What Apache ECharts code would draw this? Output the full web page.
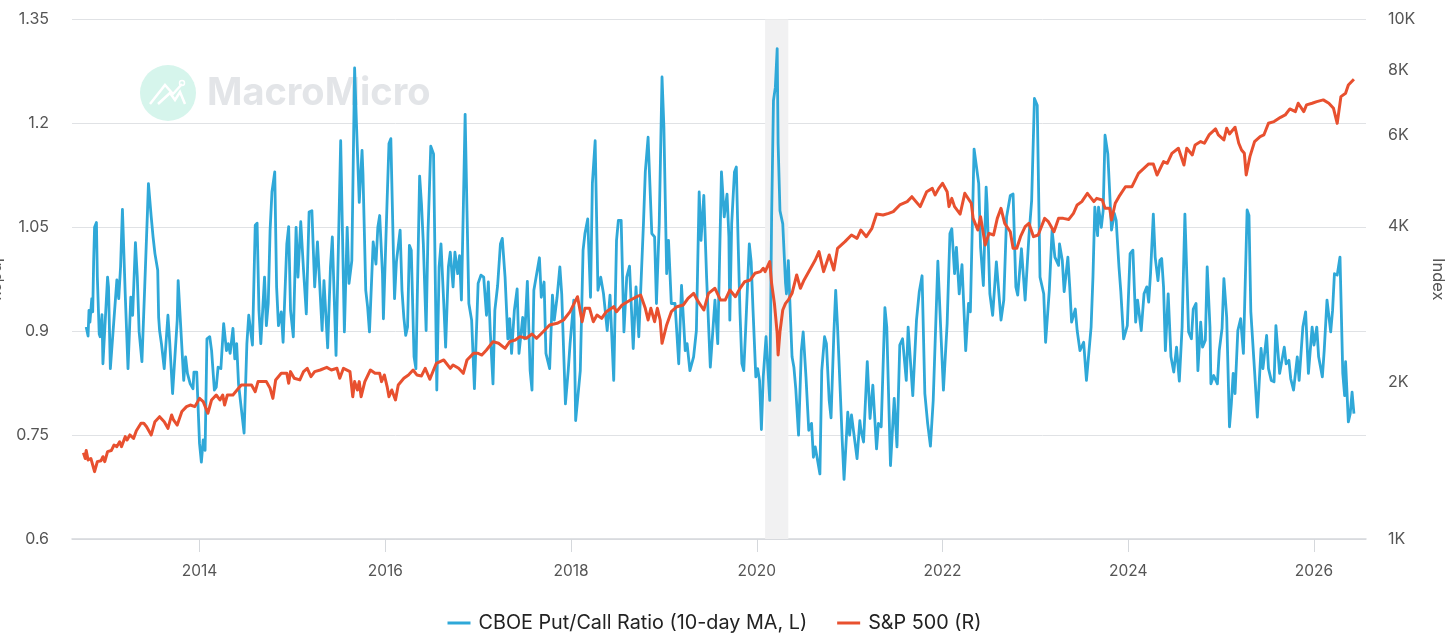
<!DOCTYPE html>
<html><head><meta charset="utf-8">
<style>html,body{margin:0;padding:0;background:#fff}#c{width:1456px;height:641px}</style>
<script src="https://cdn.jsdelivr.net/npm/echarts@6/dist/echarts.min.js"></script>
</head><body><div id="c"></div>
<script>
const yearTicks=[2014,2016,2018,2020,2022,2024,2026];
const leftTicksStep=0.15;
const rightTicks=[1000,2000,4000,6000,8000,10000];
const recession=[2020.09,2020.34];
const putCallName='CBOE Put/Call Ratio (10-day MA, L)';
const sp500Name='S&P 500 (R)';
const putCall=[[2012.78,.906],[2012.80,.893],[2012.81,.930],[2012.82,.913],[2012.84,.947],[2012.85,.928],[2012.86,1.000],[2012.87,1.050],[2012.89,1.057],[2012.90,.978],[2012.92,.896],[2012.93,.892],[2012.95,.924],[2012.96,.853],[2012.97,.853],[2013.01,.978],[2013.02,.964],[2013.04,.846],[2013.06,.846],[2013.11,.974],[2013.13,.947],[2013.15,.993],[2013.17,1.076],[2013.20,.954],[2013.23,.846],[2013.26,.949],[2013.28,.923],[2013.31,1.028],[2013.33,.978],[2013.35,.899],[2013.38,.856],[2013.41,.964],[2013.44,1.074],[2013.45,1.113],[2013.47,1.113],[2013.48,1.065],[2013.50,1.036],[2013.52,1.012],[2013.55,.988],[2013.56,.920],[2013.57,.901],[2013.59,.882],[2013.62,.846],[2013.66,.923],[2013.68,.882],[2013.71,.810],[2013.76,.916],[2013.77,.973],[2013.79,.974],[2013.83,.829],[2013.85,.863],[2013.87,.839],[2013.90,.824],[2013.93,.817],[2013.94,.841],[2013.97,.841],[2014.00,.738],[2014.02,.711],[2014.04,.743],[2014.06,.728],[2014.08,.889],[2014.11,.892],[2014.13,.872],[2014.16,.815],[2014.18,.819],[2014.20,.848],[2014.23,.846],[2014.26,.911],[2014.29,.872],[2014.31,.882],[2014.33,.868],[2014.36,.904],[2014.38,.860],[2014.40,.882],[2014.42,.824],[2014.44,.800],[2014.48,.753],[2014.51,.882],[2014.53,.923],[2014.54,.923],[2014.57,.880],[2014.60,1.053],[2014.62,1.056],[2014.64,.930],[2014.66,.882],[2014.70,.978],[2014.72,.908],[2014.74,.940],[2014.76,1.046],[2014.78,1.101],[2014.81,1.130],[2014.83,.964],[2014.85,.908],[2014.88,.928],[2014.90,.884],[2014.94,1.026],[2014.96,1.051],[2014.98,.930],[2015.01,.892],[2015.04,1.050],[2015.06,.978],[2015.09,1.058],[2015.12,.988],[2015.15,.925],[2015.18,1.072],[2015.21,1.074],[2015.24,.964],[2015.27,1.029],[2015.29,.978],[2015.32,.901],[2015.34,.973],[2015.38,.876],[2015.41,.993],[2015.43,1.036],[2015.47,.865],[2015.50,1.050],[2015.52,1.175],[2015.56,.899],[2015.59,1.050],[2015.61,.969],[2015.64,1.002],[2015.67,1.280],[2015.69,1.199],[2015.72,1.086],[2015.75,1.161],[2015.76,1.127],[2015.79,.959],[2015.81,.935],[2015.83,.899],[2015.87,1.029],[2015.90,.997],[2015.92,1.050],[2015.94,1.067],[2015.97,.983],[2015.98,.918],[2016.02,1.089],[2016.04,1.171],[2016.06,1.178],[2016.09,1.000],[2016.10,.947],[2016.12,1.000],[2016.16,1.046],[2016.18,.959],[2016.20,.920],[2016.22,.894],[2016.24,.906],[2016.26,1.024],[2016.28,1.017],[2016.31,.863],[2016.33,.846],[2016.37,1.124],[2016.39,1.084],[2016.41,1.026],[2016.44,.901],[2016.46,1.041],[2016.49,1.167],[2016.52,1.156],[2016.55,.865],[2016.555,.815],[2016.58,.993],[2016.60,1.026],[2016.63,.940],[2016.65,.877],[2016.68,.993],[2016.70,1.014],[2016.73,.964],[2016.75,1.014],[2016.78,.983],[2016.80,1.009],[2016.82,.945],[2016.84,1.074],[2016.86,1.213],[2016.88,1.074],[2016.90,.940],[2016.93,.916],[2016.96,.817],[2017.00,.969],[2017.03,.981],[2017.06,.978],[2017.09,.923],[2017.11,.971],[2017.13,.901],[2017.16,.824],[2017.18,.930],[2017.21,.966],[2017.24,1.026],[2017.26,1.034],[2017.29,.978],[2017.32,.889],[2017.34,.918],[2017.36,.868],[2017.39,.930],[2017.42,.961],[2017.44,.868],[2017.48,.920],[2017.50,.889],[2017.53,.972],[2017.56,.843],[2017.58,.815],[2017.60,.959],[2017.66,1.006],[2017.68,.949],[2017.71,.971],[2017.73,.868],[2017.77,.846],[2017.80,.952],[2017.82,.916],[2017.85,.949],[2017.88,.993],[2017.90,.954],[2017.94,.795],[2017.97,.843],[2017.99,.882],[2018.03,.945],[2018.05,.771],[2018.07,.771],[2018.10,.843],[2018.13,1.017],[2018.15,1.041],[2018.18,1.062],[2018.21,.949],[2018.23,1.113],[2018.26,1.175],[2018.29,.959],[2018.32,.978],[2018.35,.954],[2018.39,.901],[2018.42,.952],[2018.46,.829],[2018.49,1.031],[2018.51,1.060],[2018.54,1.060],[2018.57,.899],[2018.60,.978],[2018.63,.994],[2018.67,.875],[2018.70,.964],[2018.73,.892],[2018.78,1.055],[2018.80,1.130],[2018.83,1.180],[2018.87,1.041],[2018.90,1.036],[2018.92,.940],[2018.95,1.055],[2018.98,1.267],[2019.00,1.195],[2019.03,.983],[2019.05,1.031],[2019.08,.940],[2019.12,.940],[2019.16,.853],[2019.19,.966],[2019.23,.872],[2019.25,.882],[2019.28,.843],[2019.32,.863],[2019.35,.901],[2019.38,1.101],[2019.40,1.031],[2019.43,1.096],[2019.46,.978],[2019.50,.848],[2019.55,.945],[2019.58,.882],[2019.62,1.130],[2019.65,1.065],[2019.68,1.098],[2019.70,1.036],[2019.71,.916],[2019.73,1.055],[2019.76,1.130],[2019.78,1.137],[2019.80,1.026],[2019.82,.925],[2019.84,.853],[2019.86,.843],[2019.88,.901],[2019.92,1.026],[2019.94,1.000],[2019.96,.930],[2019.99,.834],[2020.01,.846],[2020.03,.829],[2020.05,.758],[2020.07,.834],[2020.10,.892],[2020.14,.800],[2020.16,1.065],[2020.18,1.233],[2020.20,1.252],[2020.22,1.308],[2020.23,1.171],[2020.25,1.074],[2020.28,1.055],[2020.31,.969],[2020.32,.954],[2020.34,1.002],[2020.36,.930],[2020.38,.863],[2020.40,.848],[2020.42,.817],[2020.45,.750],[2020.48,.872],[2020.50,.899],[2020.53,.834],[2020.56,.757],[2020.59,.767],[2020.61,.718],[2020.63,.733],[2020.65,.735],[2020.68,.694],[2020.70,.843],[2020.73,.892],[2020.75,.882],[2020.78,.800],[2020.80,.775],[2020.83,.896],[2020.85,.959],[2020.87,.906],[2020.90,.810],[2020.92,.743],[2020.94,.686],[2020.98,.783],[2021.00,.750],[2021.02,.779],[2021.04,.779],[2021.08,.716],[2021.11,.771],[2021.12,.759],[2021.15,.740],[2021.19,.856],[2021.22,.774],[2021.25,.822],[2021.29,.730],[2021.31,.767],[2021.34,.762],[2021.38,.934],[2021.40,.906],[2021.44,.706],[2021.48,.803],[2021.51,.733],[2021.54,.880],[2021.57,.889],[2021.61,.829],[2021.63,.906],[2021.68,.807],[2021.72,.916],[2021.75,.957],[2021.78,.980],[2021.81,.810],[2021.84,.767],[2021.87,.734],[2021.90,.800],[2021.95,1.001],[2021.98,.906],[2022.01,.815],[2022.05,.911],[2022.08,1.041],[2022.10,1.048],[2022.13,.983],[2022.15,1.021],[2022.18,.954],[2022.21,.996],[2022.25,.872],[2022.28,.940],[2022.30,.928],[2022.34,1.163],[2022.36,1.161],[2022.39,1.113],[2022.41,1.021],[2022.44,.966],[2022.47,1.108],[2022.48,1.084],[2022.51,.954],[2022.54,.923],[2022.58,1.000],[2022.60,1.000],[2022.63,.916],[2022.66,.945],[2022.69,1.065],[2022.73,1.096],[2022.76,1.098],[2022.79,.964],[2022.81,.952],[2022.85,1.019],[2022.89,.945],[2022.93,1.036],[2022.96,1.089],[2022.99,1.236],[2023.02,1.226],[2023.05,.978],[2023.09,.954],[2023.11,.884],[2023.15,.959],[2023.18,1.046],[2023.21,1.007],[2023.25,.995],[2023.26,1.026],[2023.29,1.002],[2023.31,.957],[2023.35,1.007],[2023.37,.964],[2023.39,.913],[2023.43,.932],[2023.45,.901],[2023.48,.872],[2023.52,.884],[2023.55,.829],[2023.57,.828],[2023.60,.906],[2023.62,.978],[2023.64,1.079],[2023.67,1.038],[2023.68,1.079],[2023.71,1.050],[2023.73,1.074],[2023.75,1.183],[2023.78,1.156],[2023.80,1.156],[2023.82,1.046],[2023.85,1.070],[2023.87,1.060],[2023.90,.993],[2023.92,.957],[2023.95,.889],[2023.99,.908],[2024.02,1.012],[2024.05,1.017],[2024.08,.913],[2024.10,.945],[2024.14,.901],[2024.17,.954],[2024.20,.964],[2024.22,.942],[2024.24,.983],[2024.27,1.069],[2024.29,1.007],[2024.32,.973],[2024.34,1.002],[2024.36,1.005],[2024.38,.964],[2024.40,.872],[2024.43,.954],[2024.46,.863],[2024.49,.841],[2024.52,.877],[2024.55,.828],[2024.58,.906],[2024.61,1.069],[2024.62,1.067],[2024.65,.899],[2024.68,.889],[2024.70,.932],[2024.73,.940],[2024.75,.843],[2024.78,.913],[2024.80,.877],[2024.83,.887],[2024.85,.993],[2024.88,.906],[2024.89,.824],[2024.92,.836],[2024.96,.824],[2024.98,.872],[2025.01,.904],[2025.03,.976],[2025.06,.920],[2025.09,.762],[2025.11,.795],[2025.13,.839],[2025.15,.810],[2025.18,.901],[2025.21,.918],[2025.24,.868],[2025.28,1.075],[2025.30,1.067],[2025.32,.928],[2025.36,.843],[2025.39,.776],[2025.43,.875],[2025.45,.846],[2025.49,.894],[2025.51,.846],[2025.54,.829],[2025.57,.827],[2025.59,.908],[2025.63,.839],[2025.68,.877],[2025.70,.853],[2025.73,.858],[2025.75,.831],[2025.78,.815],[2025.82,.863],[2025.84,.829],[2025.88,.906],[2025.91,.928],[2025.94,.839],[2025.98,.906],[2026.00,.880],[2026.03,.906],[2026.05,.863],[2026.09,.834],[2026.11,.872],[2026.14,.945],[2026.18,.899],[2026.20,.930],[2026.22,.983],[2026.25,.981],[2026.28,1.007],[2026.31,.839],[2026.33,.807],[2026.34,.856],[2026.37,.769],[2026.39,.781],[2026.41,.812],[2026.43,.781]];
const sp500=[[2012.75,1466],[2012.77,1429],[2012.78,1480],[2012.80,1419],[2012.83,1429],[2012.87,1348],[2012.90,1409],[2012.94,1415],[2012.96,1440],[2012.98,1409],[2013.01,1473],[2013.05,1480],[2013.08,1517],[2013.11,1506],[2013.14,1539],[2013.16,1506],[2013.20,1574],[2013.22,1551],[2013.25,1586],[2013.29,1562],[2013.32,1616],[2013.37,1670],[2013.40,1670],[2013.43,1645],[2013.48,1586],[2013.52,1682],[2013.57,1720],[2013.62,1682],[2013.66,1633],[2013.70,1733],[2013.72,1695],[2013.76,1657],[2013.81,1759],[2013.86,1798],[2013.90,1811],[2013.95,1798],[2014.00,1865],[2014.04,1838],[2014.06,1852],[2014.09,1746],[2014.13,1852],[2014.18,1893],[2014.22,1852],[2014.25,1893],[2014.27,1811],[2014.30,1893],[2014.36,1893],[2014.42,1950],[2014.45,1979],[2014.51,1979],[2014.56,1979],[2014.60,1921],[2014.63,2009],[2014.68,2009],[2014.72,2009],[2014.76,1950],[2014.79,1865],[2014.82,2024],[2014.88,2084],[2014.94,2084],[2014.96,1994],[2014.98,2100],[2015.02,2039],[2015.08,2024],[2015.12,2100],[2015.16,2131],[2015.20,2054],[2015.24,2100],[2015.30,2115],[2015.37,2140],[2015.42,2115],[2015.48,2131],[2015.51,2039],[2015.55,2131],[2015.62,2100],[2015.65,1879],[2015.67,2009],[2015.70,1936],[2015.72,2009],[2015.74,1879],[2015.78,2009],[2015.84,2115],[2015.89,2084],[2015.94,2084],[2015.96,2009],[2015.99,2069],[2016.02,1965],[2016.04,1879],[2016.07,1936],[2016.11,1852],[2016.14,1979],[2016.16,1965],[2016.20,2039],[2016.25,2069],[2016.30,2115],[2016.34,2069],[2016.39,2060],[2016.43,2131],[2016.48,2030],[2016.52,2115],[2016.55,2179],[2016.63,2211],[2016.70,2131],[2016.73,2163],[2016.79,2131],[2016.84,2084],[2016.88,2211],[2016.95,2277],[2017.00,2277],[2017.04,2260],[2017.09,2311],[2017.16,2398],[2017.22,2381],[2017.29,2328],[2017.34,2398],[2017.40,2416],[2017.45,2452],[2017.52,2434],[2017.58,2481],[2017.63,2434],[2017.70,2506],[2017.77,2582],[2017.85,2601],[2017.92,2640],[2017.99,2739],[2018.07,2927],[2018.12,2620],[2018.15,2780],[2018.20,2780],[2018.24,2620],[2018.28,2699],[2018.33,2659],[2018.38,2739],[2018.46,2800],[2018.49,2739],[2018.55,2822],[2018.64,2884],[2018.71,2927],[2018.75,2949],[2018.80,2780],[2018.83,2640],[2018.86,2780],[2018.90,2620],[2018.93,2780],[2018.96,2640],[2018.98,2381],[2019.03,2582],[2019.08,2739],[2019.14,2800],[2019.21,2822],[2019.26,2905],[2019.32,2971],[2019.37,2863],[2019.43,2759],[2019.48,2971],[2019.55,3038],[2019.61,2884],[2019.66,2884],[2019.71,3015],[2019.77,2927],[2019.82,3038],[2019.87,3128],[2019.93,3152],[2019.98,3247],[2020.04,3271],[2020.07,3320],[2020.09,3271],[2020.14,3419],[2020.16,3105],[2020.19,2842],[2020.22,2488],[2020.23,2261],[2020.25,2506],[2020.28,2759],[2020.31,2842],[2020.34,2884],[2020.38,2971],[2020.43,3223],[2020.47,3038],[2020.51,3152],[2020.57,3295],[2020.63,3444],[2020.67,3574],[2020.72,3271],[2020.78,3522],[2020.83,3295],[2020.87,3627],[2020.95,3736],[2021.02,3847],[2021.08,3791],[2021.12,3933],[2021.18,3819],[2021.24,3963],[2021.29,4222],[2021.36,4204],[2021.42,4235],[2021.47,4267],[2021.54,4395],[2021.62,4461],[2021.67,4560],[2021.76,4363],[2021.83,4662],[2021.89,4731],[2021.92,4594],[2021.96,4731],[2022.00,4839],[2022.05,4662],[2022.07,4363],[2022.10,4526],[2022.13,4363],[2022.15,4363],[2022.19,4222],[2022.21,4235],[2022.24,4628],[2022.31,4428],[2022.33,4142],[2022.38,3933],[2022.41,4173],[2022.46,3680],[2022.50,3875],[2022.55,3847],[2022.59,4142],[2022.63,4330],[2022.67,4052],[2022.73,3904],[2022.76,3627],[2022.80,3627],[2022.84,3819],[2022.89,3992],[2022.93,4052],[2022.98,3819],[2023.03,3847],[2023.10,4142],[2023.14,4082],[2023.16,4022],[2023.20,3904],[2023.25,4142],[2023.30,4142],[2023.36,4122],[2023.41,4235],[2023.45,4395],[2023.50,4461],[2023.56,4628],[2023.63,4461],[2023.66,4526],[2023.72,4494],[2023.75,4330],[2023.80,4330],[2023.82,4112],[2023.86,4428],[2023.90,4560],[2023.97,4766],[2024.04,4766],[2024.11,5057],[2024.22,5271],[2024.27,5271],[2024.31,5020],[2024.38,5326],[2024.42,5287],[2024.47,5526],[2024.54,5651],[2024.60,5248],[2024.63,5651],[2024.69,5486],[2024.72,5735],[2024.78,5821],[2024.82,5778],[2024.87,5995],[2024.94,6156],[2024.97,5995],[2025.03,5863],[2025.06,6175],[2025.09,6022],[2025.15,6203],[2025.19,5778],[2025.22,5609],[2025.25,5526],[2025.27,5020],[2025.31,5445],[2025.36,5821],[2025.42,5950],[2025.46,5995],[2025.51,6313],[2025.57,6360],[2025.64,6482],[2025.69,6550],[2025.74,6727],[2025.80,6649],[2025.83,6899],[2025.89,6649],[2025.92,6848],[2025.98,6899],[2026.03,6950],[2026.10,7002],[2026.16,6899],[2026.21,6747],[2026.25,6313],[2026.29,7104],[2026.34,7210],[2026.37,7480],[2026.43,7672]];

const FONT='Inter';
const chart=echarts.init(document.getElementById('c'),null,{renderer:'canvas'});
chart.setOption({
  animation:false,
  backgroundColor:'#fff',
  textStyle:{fontFamily:FONT},
  grid:{left:72,right:90,top:19.5,bottom:102,containLabel:false,outerBoundsMode:'none'},
  legend:{left:442.5,top:608,icon:'rect',itemWidth:23,itemHeight:3,itemGap:30,itemStyle:{borderWidth:0},
    textStyle:{fontFamily:FONT,fontSize:19.8,color:'#222',padding:[0,0,0,3]},
    data:[putCallName,sp500Name]},
  graphic:[
    {type:'circle',z:1,shape:{cx:168,cy:93,r:28},style:{fill:'#d6f5ec'},silent:true},
    {type:'polyline',z:1,shape:{points:[[150,104],[165,85],[173,94],[182,84]]},style:{stroke:'#fff',lineWidth:2.5,fill:null},silent:true},
    {type:'polyline',z:1,shape:{points:[[158,104],[170,93],[175,100],[180,92],[185,104]]},style:{stroke:'#fff',lineWidth:2.5,fill:null},silent:true},
    {type:'circle',z:1,shape:{cx:182,cy:83,r:2.5},style:{stroke:'#fff',lineWidth:1.5,fill:null},silent:true},
    {type:'text',z:1,left:207,top:75,style:{text:'MacroMicro',fontFamily:FONT,fontWeight:700,fontSize:38,fill:'#e3e5e8'},silent:true}
  ],
  xAxis:{type:'value',min:2012.627,max:2026.56,
    axisLine:{lineStyle:{color:'#d5d8dc',width:1.5}},
    axisTick:{show:true,length:13,customValues:yearTicks,lineStyle:{color:'#d5d8dc'}},
    axisLabel:{customValues:yearTicks,formatter:v=>String(v),color:'#555',fontSize:15.5,margin:24,fontFamily:FONT},
    splitLine:{show:false}},
  yAxis:[
    {type:'value',min:0.6,max:1.35,interval:leftTicksStep,name:'Index',nameLocation:'middle',nameGap:66,nameRotate:-90,
      nameTextStyle:{color:'#555',fontSize:16.5,fontFamily:FONT},
      axisLine:{show:false},axisTick:{show:false},
      axisLabel:{color:'#555',fontSize:16,margin:23,padding:[2,0,0,0],fontFamily:FONT,formatter:v=>String(+v.toFixed(2))},
      splitLine:{show:true,lineStyle:{color:'#e0e2e5',width:1}}},
    {type:'log',logBase:10,min:1000,max:10000,name:'Index',nameLocation:'middle',nameGap:63,nameRotate:-90,
      nameTextStyle:{color:'#555',fontSize:16.5,fontFamily:FONT},
      axisLine:{show:false},axisTick:{show:false},splitLine:{show:false},minorTick:{show:false},
      axisLabel:{customValues:rightTicks,color:'#555',fontSize:16,margin:22,padding:[3,0,0,0],fontFamily:FONT,formatter:v=>(v/1000)+'K'}}
  ],
  series:[
    {name:putCallName,type:'line',yAxisIndex:0,data:putCall,showSymbol:false,symbol:'none',z:3,
      lineStyle:{color:'#2fa8d8',width:2.8,join:'round'},itemStyle:{color:'#2fa8d8'},
      markArea:{silent:true,itemStyle:{color:'#f1f1f2'},data:[[{xAxis:recession[0]},{xAxis:recession[1]}]]}},
    {name:sp500Name,type:'line',yAxisIndex:1,data:sp500,showSymbol:false,symbol:'none',z:4,
      lineStyle:{color:'#e8502f',width:3,join:'round'},itemStyle:{color:'#e8502f'}}
  ]
});
</script></body></html>
